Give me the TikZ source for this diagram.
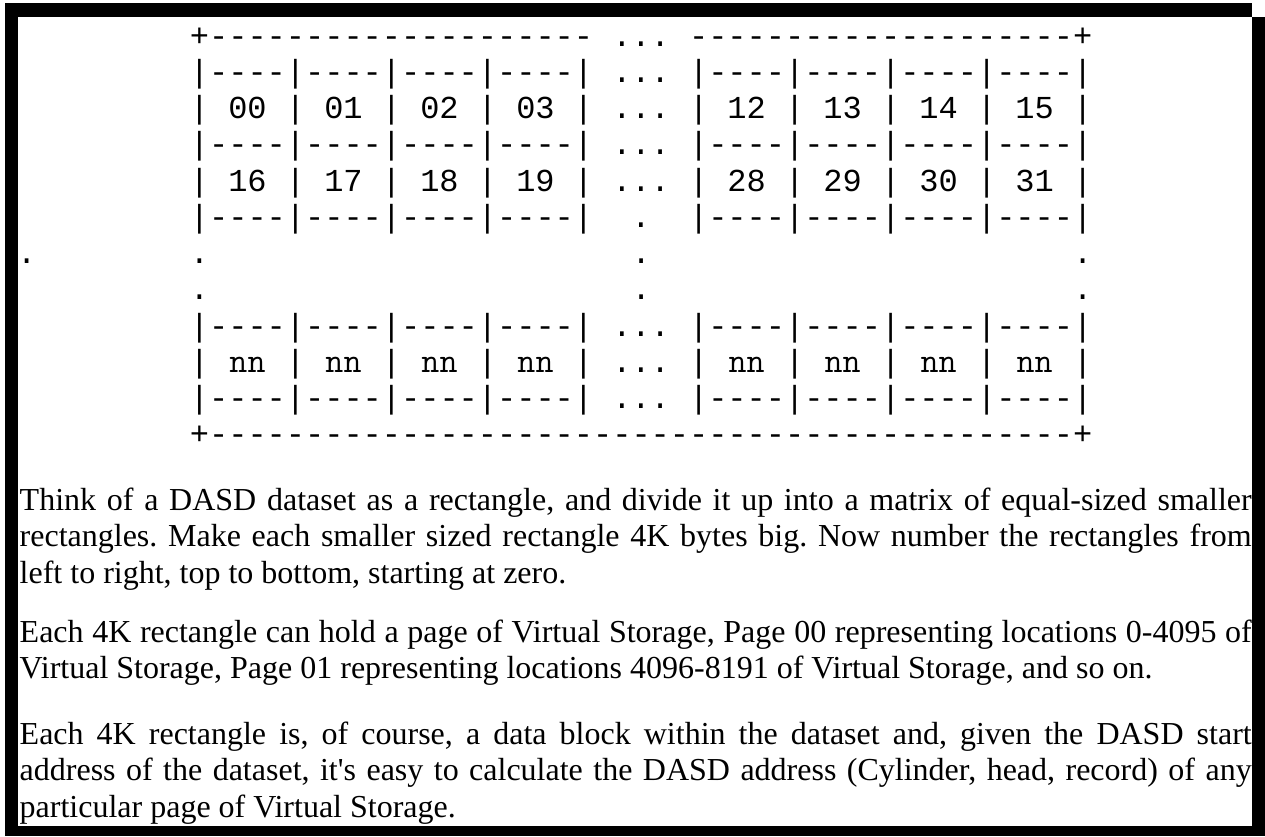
\documentclass[tikz,border=0pt]{standalone}
\usepackage{fontspec}
\newfontfamily\bodyfont{Liberation Serif}
\newfontfamily\gridfont{Liberation Mono}
\frenchspacing
\newlength\charw
\setlength\charw{19.2pt}
% blank character cells in the monospaced grid
\newcommand\gap[1]{\hspace*{#1\charw}}
% a two-character cell label set in a serif typewriter face
\newcommand\nn{\makebox[2\charw]{\ttfamily\fontsize{35}{38}\selectfont nn}}
\begin{document}
\begin{tikzpicture}[x=1pt,y=-1pt,
  framebar/.style={fill=black},
  gridline/.style={anchor=base west, inner sep=0pt,
    font=\gridfont\fontsize{32}{36.25}\selectfont},
  para/.style={anchor=base west, inner sep=0pt, text width=1232pt,
    align=justify, font=\bodyfont\fontsize{32}{36.5}\selectfont}]
\useasboundingbox (0,0) rectangle (1265,836);
\fill[white] (0,0) rectangle (1265,836);

% heavy frame
\fill[framebar] (5,3) rectangle (1252,17);
\fill[framebar] (5,3) rectangle (18.3,836);
\fill[framebar] (1252,17) rectangle (1265,836);
\fill[framebar] (5,826) rectangle (1265,836);

% the page matrix, one text line per row
\node[gridline] (r0)  at (189.7,46)     {+--------------------\gap{1}...\gap{1}--------------------+};
\node[gridline] (r1)  at (189.7,82.25)  {|----|----|----|----|\gap{1}...\gap{1}|----|----|----|----|};
\node[gridline] (r2)  at (189.7,118.5)  {|\gap{1}00\gap{1}|\gap{1}01\gap{1}|\gap{1}02\gap{1}|\gap{1}03\gap{1}|\gap{1}...\gap{1}|\gap{1}12\gap{1}|\gap{1}13\gap{1}|\gap{1}14\gap{1}|\gap{1}15\gap{1}|};
\node[gridline] (r3)  at (189.7,154.75) {|----|----|----|----|\gap{1}...\gap{1}|----|----|----|----|};
\node[gridline] (r4)  at (189.7,191)    {|\gap{1}16\gap{1}|\gap{1}17\gap{1}|\gap{1}18\gap{1}|\gap{1}19\gap{1}|\gap{1}...\gap{1}|\gap{1}28\gap{1}|\gap{1}29\gap{1}|\gap{1}30\gap{1}|\gap{1}31\gap{1}|};
\node[gridline] (r5)  at (189.7,227.25) {|----|----|----|----|\gap{2}.\gap{2}|----|----|----|----|};
\node[gridline] (r6)  at (16.9,263.5)   {.\gap{8}.\gap{22}.\gap{22}.};
\node[gridline] (r7)  at (189.7,299.75) {.\gap{22}.\gap{22}.};
\node[gridline] (r8)  at (189.7,336)    {|----|----|----|----|\gap{1}...\gap{1}|----|----|----|----|};
\node[gridline] (r9)  at (189.7,372.25) {|\gap{1}\nn\gap{1}|\gap{1}\nn\gap{1}|\gap{1}\nn\gap{1}|\gap{1}\nn\gap{1}|\gap{1}...\gap{1}|\gap{1}\nn\gap{1}|\gap{1}\nn\gap{1}|\gap{1}\nn\gap{1}|\gap{1}\nn\gap{1}|};
\node[gridline] (r10) at (189.7,408.5)  {|----|----|----|----|\gap{1}...\gap{1}|----|----|----|----|};
\node[gridline] (r11) at (189.7,444.75) {+---------------------------------------------+};

% explanatory paragraphs
\node[para] (p1) at (19.5,510) {\tolerance=10000\hyphenpenalty=10000\exhyphenpenalty=10000
Think of a DASD dataset as a rectangle, and divide it up into a matrix of equal-sized smaller\linebreak
rectangles. Make each smaller sized rectangle 4K bytes big. Now number the rectangles from\linebreak
left to right, top to bottom, starting at zero.};
\node[para] (p2) at (19.5,642) {\tolerance=10000\hyphenpenalty=10000\exhyphenpenalty=10000
Each 4K rectangle can hold a page of Virtual Storage, Page 00 representing locations 0-4095 of\linebreak
Virtual Storage, Page 01 representing locations 4096-8191 of Virtual Storage, and so on.};
\node[para] (p3) at (19.5,744) {\tolerance=10000\hyphenpenalty=10000\exhyphenpenalty=10000
Each 4K rectangle is, of course, a data block within the dataset and, given the DASD start\linebreak
address of the dataset, it's easy to calculate the DASD address (Cylinder, head, record) of any\linebreak
particular page of Virtual Storage.};
\end{tikzpicture}
\end{document}
